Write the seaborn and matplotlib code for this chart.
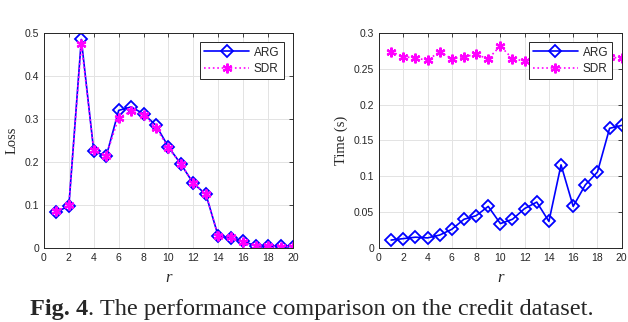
import matplotlib
matplotlib.use('Agg')
import matplotlib.pyplot as plt
import seaborn as sns

# data
r = list(range(1, 21))
loss_arg = [0.083, 0.098, 0.485, 0.225, 0.213, 0.320, 0.328, 0.312, 0.285, 0.235,
            0.195, 0.150, 0.125, 0.027, 0.024, 0.015, 0.005, 0.004, 0.004, 0.003]
loss_sdr = [0.085, 0.100, 0.475, 0.228, 0.215, 0.303, 0.318, 0.310, 0.280, 0.232,
            0.196, 0.150, 0.126, 0.027, 0.025, 0.013, 0.005, 0.004, 0.003, 0.003]
time_arg = [0.011, 0.013, 0.015, 0.014, 0.018, 0.026, 0.040, 0.045, 0.058, 0.034,
            0.040, 0.055, 0.064, 0.037, 0.116, 0.058, 0.088, 0.106, 0.167, 0.171]
time_sdr = [0.274, 0.267, 0.265, 0.262, 0.274, 0.264, 0.267, 0.270, 0.264, 0.282,
            0.264, 0.261, 0.264, 0.266, 0.263, 0.267, 0.265, 0.264, 0.266, 0.265]

sns.set_style('white')
plt.rcParams['font.family'] = ['Liberation Sans', 'DejaVu Sans']
plt.rcParams['xtick.direction'] = 'in'
plt.rcParams['ytick.direction'] = 'in'

fig = plt.figure(figsize=(6.28, 3.22), dpi=100)
ax1 = fig.add_axes([0.070, 0.230, 0.3966, 0.6675])
ax2 = fig.add_axes([0.6035, 0.230, 0.3865, 0.6675])

asterisk = (6, 2, 0)


def draw(ax, y_arg, y_sdr):
    sns.lineplot(x=r, y=y_arg, ax=ax, color='blue', linewidth=1.2, marker='D',
                 markersize=6.5, markerfacecolor='none', markeredgecolor='blue',
                 markeredgewidth=1.3, label='ARG')
    sns.lineplot(x=r, y=y_sdr, ax=ax, color='magenta', linewidth=1.2, linestyle=':',
                 marker=asterisk, markersize=7, markeredgecolor='magenta',
                 markeredgewidth=1.6, label='SDR')
    ax.set_xlim(0, 20)
    ax.set_xticks(range(0, 21, 2))
    ax.grid(True, color='#e3e3e3', linewidth=0.7)
    for s in ax.spines.values():
        s.set_color('#262626')
        s.set_linewidth(0.7)
    ax.tick_params(labelsize=7.5, colors='#262626', length=3, width=0.6,
                   top=True, right=True)
    ax.set_xlabel('r', fontfamily='Liberation Serif', fontstyle='italic', fontsize=12,
                  labelpad=5)
    leg = ax.legend(loc='upper right', fontsize=8.5, frameon=True, fancybox=False,
                    framealpha=1, edgecolor='#262626', handlelength=3.8,
                    borderaxespad=0.8, borderpad=0.35, labelspacing=0.35,
                    handletextpad=0.4)
    leg.get_frame().set_linewidth(0.7)


draw(ax1, loss_arg, loss_sdr)
ax1.set_ylim(0, 0.5)
ax1.set_yticks([0, 0.1, 0.2, 0.3, 0.4, 0.5])
ax1.set_yticklabels(['0', '0.1', '0.2', '0.3', '0.4', '0.5'])
ax1.set_ylabel('Loss', fontfamily='Liberation Serif', fontsize=10.5, labelpad=4)

draw(ax2, time_arg, time_sdr)
ax2.set_ylim(0, 0.3)
ax2.set_yticks([0, 0.05, 0.1, 0.15, 0.2, 0.25, 0.3])
ax2.set_yticklabels(['0', '0.05', '0.1', '0.15', '0.2', '0.25', '0.3'])
ax2.set_ylabel('Time (s)', fontfamily='Liberation Serif', fontsize=10.5, labelpad=4)

# caption: bold "Fig. 4" followed by regular text
t1 = fig.text(0.0475, 0.022, 'Fig. 4', fontfamily='Liberation Serif',
              fontweight='bold', fontsize=17.5, ha='left', va='baseline')
fig.canvas.draw()
bb = t1.get_window_extent()
x_next = bb.x1 / fig.bbox.width
fig.text(x_next, 0.022, '. The performance comparison on the credit dataset.',
         fontfamily='Liberation Serif', fontsize=17.5, ha='left', va='baseline')

fig.savefig('out.png', dpi=100)
